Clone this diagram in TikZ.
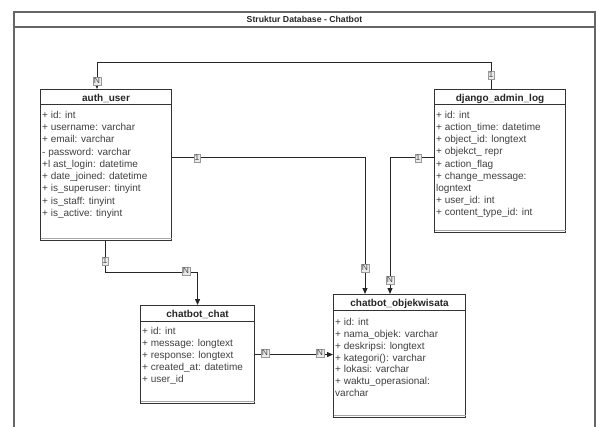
\documentclass[tikz,border=0pt]{standalone}
\usepackage{fontspec}
\setmainfont{Liberation Sans}
\usetikzlibrary{arrows.meta}
\begin{document}
\begin{tikzpicture}[x=1pt,y=-1pt,
  frame/.style={draw=black!60,line width=1.3pt},
  tbl/.style={draw=black!80,line width=1.1pt,fill=white,anchor=north west,inner sep=0pt},
  hdr/.style={font=\bfseries\fontsize{10}{12}\selectfont,text=black!85,anchor=base,inner sep=0pt},
  attr/.style={font=\fontsize{10}{12}\selectfont,text=black!75,anchor=base west,inner sep=0pt},
  sep/.style={draw=black!80,line width=1pt},
  foot/.style={draw=black!35,line width=1pt},
  conn/.style={draw=black!85,line width=1pt},
  arr/.style={-{Triangle[length=6pt,width=5pt]}},
  card/.style={fill=black!8,draw=black!40,line width=0.4pt,inner sep=0.9pt,
    font=\fontsize{8.5}{8.5}\selectfont,text=black!70}
]
\useasboundingbox (0,0) rectangle (596,427);
\clip (0,0) rectangle (596,427);
\fill[white] (0,0) rectangle (596,427);

% outer frame with title band
\draw[frame] (14,450) -- (14,12) -- (595,12) -- (595,450);
\draw[frame] (14,27) -- (595,27);
\node[font=\bfseries\fontsize{8.7}{10}\selectfont,text=black!85] (title) at (304.5,19.8) {Struktur Database - Chatbot};

% tables
\node[tbl,minimum width=131pt,minimum height=151pt] (auth) at (40,89) {};
\node[tbl,minimum width=131pt,minimum height=143pt] (log) at (434,89) {};
\node[tbl,minimum width=114pt,minimum height=98pt] (chat) at (140,305) {};
\node[tbl,minimum width=132pt,minimum height=123pt] (obj) at (333,294) {};

\foreach \t in {auth,log,chat,obj}{
  \draw[sep] ([yshift=-16pt]\t.north west) -- ([yshift=-16pt]\t.north east);
  \draw[foot] ([yshift=3pt,xshift=0.6pt]\t.south west) -- ([yshift=3pt,xshift=-0.6pt]\t.south east);
}

\node[hdr] (authH) at ([yshift=-12.8pt]auth.north) {auth\_user};
\node[hdr] (logH) at ([yshift=-12.8pt]log.north) {django\_admin\_log};
\node[hdr] (chatH) at ([yshift=-12.8pt]chat.north) {chatbot\_chat};
\node[hdr] (objH) at ([yshift=-12.8pt]obj.north) {chatbot\_objekwisata};

\foreach \a [count=\i] in {+ id: int,+ username: varchar,+ email: varchar,- password: varchar,
  +l ast\_login: datetime,+ date\_joined: datetime,+ is\_superuser: tinyint,
  + is\_staff: tinyint,+ is\_active: tinyint}
  \node[attr] (auth-\i) at ([xshift=2pt,yshift={-(29.5+(\i-1)*12.25)*1pt}]auth.north west) {\a};

\foreach \a [count=\i] in {+ id: int,+ action\_time: datetime,+ object\_id: longtext,
  + objekct\_ repr,+ action\_flag,+ change\_message:,logntext,+ user\_id: int,
  + content\_type\_id: int}
  \node[attr] (log-\i) at ([xshift=2pt,yshift={-(29.5+(\i-1)*12.15)*1pt}]log.north west) {\a};

\foreach \a [count=\i] in {+ id: int,+ message: longtext,+ response: longtext,
  + created\_at: datetime,+ user\_id}
  \node[attr] (chat-\i) at ([xshift=2pt,yshift={-(29.5+(\i-1)*12)*1pt}]chat.north west) {\a};

\foreach \a [count=\i] in {+ id: int,+ nama\_objek: varchar,+ deskripsi: longtext,
  + kategori(): varchar,+ lokasi: varchar,+ waktu\_operasional:,varchar}
  \node[attr] (obj-\i) at ([xshift=2pt,yshift={-(31.5+(\i-1)*11.85)*1pt}]obj.north west) {\a};

% relations
\coordinate (topY) at (0,63);
\draw[conn,arr] ([xshift=57pt]log.north west) -- ([xshift=57pt]log.north west |- topY)
  -- ([xshift=57pt]auth.north west |- topY) -- ([xshift=57pt]auth.north west);
\node[card] (c1a) at (491,75) {1};
\node[card] (c1b) at (97,81) {N};

\draw[conn,arr] ([yshift=-69pt]auth.north east) -| ([xshift=32pt]obj.north west);
\node[card] (c2a) at (197,158) {1};
\node[card] (c2b) at (365,268) {N};

\draw[conn,arr] ([yshift=-69pt]log.north west) -| ([xshift=57pt]obj.north west);
\node[card] (c3a) at (418,158) {1};
\node[card] (c3b) at (390,280) {N};

\draw[conn,arr] ([xshift=65pt]auth.south west) -- ++(0,31) -| (chat.north);
\node[card] (c4a) at (105,261) {1};
\node[card] (c4b) at (186,271) {N};

\draw[conn,arr] (chat.east) -- (chat.east -| obj.west);
\node[card] (c5a) at (265,353) {N};
\node[card] (c5b) at (320,353) {N};
\end{tikzpicture}
\end{document}
